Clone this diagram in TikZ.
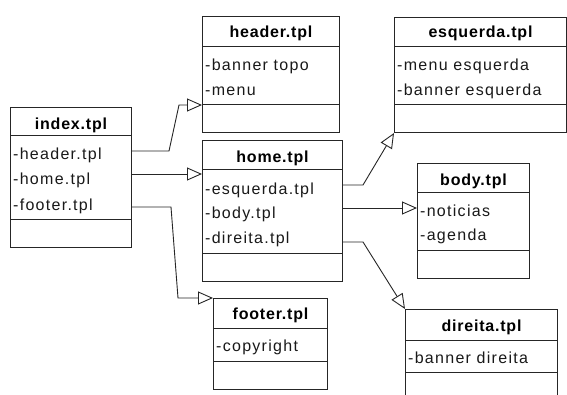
\documentclass[tikz,border=0pt]{standalone}
\usepackage{fontspec}
\setmainfont{Liberation Sans}[LetterSpace=5]
\usetikzlibrary{arrows.meta}
\begin{document}
\begin{tikzpicture}[x=1pt,y=-1pt,
  box/.style={draw=black!85, line width=1pt, rectangle, inner sep=0pt, anchor=north west},
  ttl/.style={font=\fontsize{16}{19}\selectfont\bfseries, anchor=base, inner sep=0pt},
  attr/.style={font=\fontsize{16}{19}\selectfont\addfontfeature{LetterSpace=8}, anchor=base west, inner sep=0pt, text=black!90},
  div/.style={draw=black!85, line width=1pt},
  conn/.style={draw=black!85, line width=0.9pt},
  gen/.style={conn, -{Triangle[open, length=15pt, width=13pt]}}]
\useasboundingbox (0,0) rectangle (567,394);
\clip (0,0) rectangle (567,394);
\fill[white] (0,0) rectangle (567,394);

% index.tpl
\node[box, minimum width=121pt, minimum height=140pt] (index) at (10,107) {};
\node[ttl] (indexT) at ([yshift=-22pt]index.north) {index.tpl};
\draw[div] ([yshift=-28pt]index.north west) -- ([yshift=-28pt]index.north east);
\draw[div] ([yshift=-112pt]index.north west) -- ([yshift=-112pt]index.north east);
\node[attr] (indexA) at ([xshift=3pt,yshift=-52pt]index.north west) {-header.tpl};
\node[attr] (indexB) at ([xshift=3pt,yshift=-77pt]index.north west) {-home.tpl};
\node[attr] (indexC) at ([xshift=3pt,yshift=-103pt]index.north west) {-footer.tpl};

% header.tpl
\node[box, minimum width=137pt, minimum height=116pt] (header) at (202,16) {};
\node[ttl] (headerT) at ([yshift=-21pt]header.north) {header.tpl};
\draw[div] ([yshift=-30pt]header.north west) -- ([yshift=-30pt]header.north east);
\draw[div] ([yshift=-88pt]header.north west) -- ([yshift=-88pt]header.north east);
\node[attr] (headerA) at ([xshift=3pt,yshift=-54pt]header.north west) {-banner topo};
\node[attr] (headerB) at ([xshift=3pt,yshift=-79pt]header.north west) {-menu};

% home.tpl
\node[box, minimum width=140pt, minimum height=141pt] (home) at (202,140) {};
\node[ttl] (homeT) at ([yshift=-22pt]home.north) {home.tpl};
\draw[div] ([yshift=-29pt]home.north west) -- ([yshift=-29pt]home.north east);
\draw[div] ([yshift=-113pt]home.north west) -- ([yshift=-113pt]home.north east);
\node[attr] (homeA) at ([xshift=3pt,yshift=-54pt]home.north west) {-esquerda.tpl};
\node[attr] (homeB) at ([xshift=3pt,yshift=-78pt]home.north west) {-body.tpl};
\node[attr] (homeC) at ([xshift=3pt,yshift=-103pt]home.north west) {-direita.tpl};

% esquerda.tpl
\node[box, minimum width=172pt, minimum height=115pt] (esq) at (394,17) {};
\node[ttl] (esqT) at ([yshift=-20pt]esq.north) {esquerda.tpl};
\draw[div] ([yshift=-29pt]esq.north west) -- ([yshift=-29pt]esq.north east);
\draw[div] ([yshift=-87pt]esq.north west) -- ([yshift=-87pt]esq.north east);
\node[attr] (esqA) at ([xshift=3pt,yshift=-53pt]esq.north west) {-menu esquerda};
\node[attr] (esqB) at ([xshift=3pt,yshift=-78pt]esq.north west) {-banner esquerda};

% body.tpl
\node[box, minimum width=112pt, minimum height=115pt] (body) at (417,163) {};
\node[ttl] (bodyT) at ([yshift=-22pt]body.north) {body.tpl};
\draw[div] ([yshift=-29pt]body.north west) -- ([yshift=-29pt]body.north east);
\draw[div] ([yshift=-87pt]body.north west) -- ([yshift=-87pt]body.north east);
\node[attr] (bodyA) at ([xshift=3pt,yshift=-53pt]body.north west) {-noticias};
\node[attr] (bodyB) at ([xshift=3pt,yshift=-77pt]body.north west) {-agenda};

% direita.tpl
\node[box, minimum width=152pt, minimum height=100pt] (dir) at (405,309) {};
\node[ttl] (dirT) at ([yshift=-22pt]dir.north) {direita.tpl};
\draw[div] ([yshift=-31pt]dir.north west) -- ([yshift=-31pt]dir.north east);
\draw[div] ([yshift=-63pt]dir.north west) -- ([yshift=-63pt]dir.north east);
\node[attr] (dirA) at ([xshift=3pt,yshift=-54pt]dir.north west) {-banner direita};

% footer.tpl
\node[box, minimum width=114pt, minimum height=91pt] (footer) at (213,298) {};
\node[ttl] (footerT) at ([yshift=-21pt]footer.north) {footer.tpl};
\draw[div] ([yshift=-30pt]footer.north west) -- ([yshift=-30pt]footer.north east);
\draw[div] ([yshift=-63pt]footer.north west) -- ([yshift=-63pt]footer.north east);
\node[attr] (footerA) at ([xshift=3pt,yshift=-53pt]footer.north west) {-copyright};

% connectors
\draw[gen] ([yshift=-44pt]index.north east) -- ++(37,0)
  -- ([xshift=-23pt,yshift=-89pt]header.north west) -- ([yshift=-89pt]header.north west);
\draw[gen] ([yshift=-67pt]index.north east) -- ([yshift=-34pt]home.north west);
\draw[gen] ([yshift=-100pt]index.north east) -- ++(39,0)
  -- ([xshift=-35pt]footer.north west) -- (footer.north west);
\draw[gen] ([yshift=-45pt]home.north east) -- ++(20,0) -- (esq.south west);
\draw[gen] ([yshift=-68pt]home.north east) -- ([yshift=-45pt]body.north west);
\draw[gen] ([yshift=-102pt]home.north east) -- ++(20,0) -- (dir.north west);
\end{tikzpicture}
\end{document}
